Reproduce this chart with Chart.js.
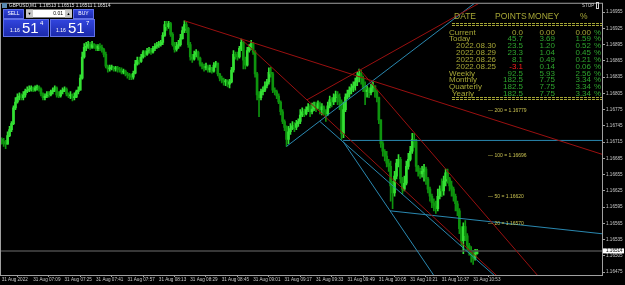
<!DOCTYPE html>
<html>
<head>
<meta charset="utf-8">
<script src="https://cdn.jsdelivr.net/npm/chart.js@4.4.0/dist/chart.umd.min.js"></script>
<style>
  html, body { margin: 0; padding: 0; background: #000; }
  #wrap { position: relative; width: 625px; height: 285px; }
</style>
</head>
<body>
<div id="wrap"><canvas id="chart"></canvas></div>
<script>
// GBPUSD M1, 31 Aug 2022, one bar per minute starting 06:53
const firstOpen = 1.16720;
const closes = [
  1.16716,1.16712,1.16711,1.16727,1.16738,1.16749,1.16778,1.16789,1.16798,1.16800,
  1.16797,1.16802,1.16809,1.16811,1.16813,1.16815,1.16811,1.16815,1.16817,1.16813,
  1.16804,1.16797,1.16800,1.16804,1.16802,1.16808,1.16811,1.16815,1.16802,1.16800,
  1.16808,1.16811,1.16813,1.16804,1.16800,1.16802,1.16797,1.16798,1.16808,1.16811,
  1.16833,1.16872,1.16890,1.16892,1.16895,1.16890,1.16895,1.16894,1.16888,1.16892,
  1.16890,1.16886,1.16877,1.16855,1.16850,1.16852,1.16853,1.16850,1.16852,1.16850,
  1.16848,1.16844,1.16846,1.16841,1.16839,1.16837,1.16835,1.16842,1.16859,1.16866,
  1.16864,1.16872,1.16881,1.16877,1.16883,1.16884,1.16881,1.16888,1.16892,1.16894,
  1.16895,1.16899,1.16912,1.16932,1.16928,1.16934,1.16914,1.16895,1.16886,1.16892,
  1.16895,1.16906,1.16921,1.16932,1.16925,1.16895,1.16872,1.16868,1.16877,1.16881,
  1.16870,1.16859,1.16855,1.16852,1.16855,1.16848,1.16852,1.16846,1.16857,1.16861,
  1.16841,1.16833,1.16830,1.16826,1.16828,1.16822,1.16826,1.16848,1.16877,1.16873,
  1.16872,1.16888,1.16899,1.16866,1.16857,1.16884,1.16890,1.16897,1.16881,1.16841,
  1.16802,1.16797,1.16808,1.16811,1.16819,1.16826,1.16844,1.16841,1.16811,1.16808,
  1.16800,1.16789,1.16771,1.16753,1.16742,1.16720,1.16734,1.16740,1.16745,1.16742,
  1.16749,1.16753,1.16765,1.16771,1.16767,1.16775,1.16780,1.16771,1.16776,1.16782,
  1.16778,1.16786,1.16775,1.16780,1.16771,1.16767,1.16782,1.16793,1.16789,1.16797,
  1.16802,1.16798,1.16789,1.16731,1.16775,1.16798,1.16804,1.16811,1.16815,1.16819,
  1.16826,1.16837,1.16841,1.16833,1.16815,1.16808,1.16811,1.16806,1.16815,1.16819,
  1.16808,1.16797,1.16756,1.16712,1.16698,1.16689,1.16676,1.16670,1.16634,1.16621,
  1.16652,1.16676,1.16683,1.16647,1.16628,1.16639,1.16670,1.16683,1.16698,1.16720,
  1.16716,1.16670,1.16661,1.16656,1.16661,1.16665,1.16647,1.16628,1.16615,1.16603,
  1.16597,1.16592,1.16615,1.16628,1.16625,1.16643,1.16658,1.16647,1.16634,1.16628,
  1.16615,1.16601,1.16588,1.16555,1.16533,1.16559,1.16542,1.16524,1.16515,1.16506,
  1.16500,1.16509,1.16514
];
const highs = [
  1.16723,1.16722,1.16718,1.16734,1.16744,1.16753,1.16782,1.16797,1.16804,1.16806,
  1.16804,1.16808,1.16813,1.16817,1.16819,1.16819,1.16817,1.16819,1.16820,1.16819,
  1.16815,1.16806,1.16804,1.16808,1.16808,1.16811,1.16815,1.16819,1.16817,1.16808,
  1.16811,1.16815,1.16817,1.16815,1.16806,1.16808,1.16804,1.16806,1.16811,1.16817,
  1.16839,1.16881,1.16897,1.16899,1.16901,1.16899,1.16901,1.16897,1.16895,1.16895,
  1.16897,1.16894,1.16888,1.16881,1.16857,1.16857,1.16857,1.16855,1.16855,1.16855,
  1.16853,1.16852,1.16850,1.16848,1.16844,1.16842,1.16841,1.16846,1.16866,1.16872,
  1.16872,1.16877,1.16884,1.16884,1.16888,1.16890,1.16888,1.16892,1.16897,1.16899,
  1.16901,1.16903,1.16917,1.16938,1.16938,1.16938,1.16936,1.16917,1.16899,1.16899,
  1.16903,1.16914,1.16928,1.16939,1.16936,1.16927,1.16899,1.16877,1.16883,1.16886,
  1.16883,1.16872,1.16862,1.16859,1.16861,1.16857,1.16857,1.16853,1.16862,1.16864,
  1.16859,1.16842,1.16837,1.16833,1.16831,1.16830,1.16831,1.16853,1.16884,1.16881,
  1.16881,1.16892,1.16905,1.16901,1.16872,1.16890,1.16895,1.16903,1.16899,1.16884,
  1.16844,1.16808,1.16813,1.16817,1.16826,1.16831,1.16852,1.16853,1.16844,1.16815,
  1.16811,1.16804,1.16791,1.16775,1.16756,1.16745,1.16744,1.16749,1.16753,1.16751,
  1.16755,1.16758,1.16775,1.16778,1.16776,1.16780,1.16786,1.16784,1.16787,1.16789,
  1.16789,1.16791,1.16789,1.16786,1.16782,1.16775,1.16789,1.16800,1.16797,1.16804,
  1.16809,1.16808,1.16804,1.16793,1.16789,1.16804,1.16811,1.16817,1.16822,1.16826,
  1.16833,1.16844,1.16850,1.16848,1.16837,1.16826,1.16819,1.16815,1.16822,1.16826,
  1.16817,1.16811,1.16798,1.16756,1.16716,1.16701,1.16698,1.16683,1.16680,1.16643,
  1.16661,1.16683,1.16692,1.16687,1.16650,1.16652,1.16680,1.16694,1.16707,1.16731,
  1.16731,1.16720,1.16672,1.16667,1.16670,1.16674,1.16669,1.16650,1.16632,1.16619,
  1.16610,1.16606,1.16628,1.16634,1.16647,1.16652,1.16665,1.16665,1.16650,1.16643,
  1.16632,1.16619,1.16606,1.16592,1.16559,1.16566,1.16570,1.16546,1.16528,1.16522,
  1.16515,1.16517,1.16517
];
const lows = [
  1.16711,1.16707,1.16703,1.16711,1.16725,1.16734,1.16747,1.16775,1.16787,1.16793,
  1.16793,1.16793,1.16798,1.16806,1.16808,1.16809,1.16808,1.16809,1.16811,1.16809,
  1.16800,1.16793,1.16793,1.16797,1.16798,1.16800,1.16804,1.16808,1.16798,1.16797,
  1.16798,1.16804,1.16808,1.16800,1.16797,1.16795,1.16791,1.16793,1.16797,1.16804,
  1.16811,1.16831,1.16870,1.16884,1.16888,1.16886,1.16888,1.16888,1.16884,1.16884,
  1.16884,1.16881,1.16872,1.16852,1.16844,1.16846,1.16848,1.16846,1.16846,1.16844,
  1.16844,1.16841,1.16841,1.16837,1.16833,1.16830,1.16830,1.16831,1.16841,1.16857,
  1.16859,1.16862,1.16870,1.16872,1.16875,1.16879,1.16877,1.16879,1.16884,1.16888,
  1.16890,1.16892,1.16895,1.16910,1.16921,1.16925,1.16910,1.16892,1.16881,1.16883,
  1.16888,1.16892,1.16905,1.16917,1.16917,1.16890,1.16866,1.16862,1.16866,1.16872,
  1.16866,1.16855,1.16850,1.16846,1.16848,1.16844,1.16844,1.16842,1.16844,1.16853,
  1.16837,1.16828,1.16824,1.16820,1.16819,1.16817,1.16815,1.16824,1.16844,1.16868,
  1.16866,1.16870,1.16884,1.16850,1.16850,1.16855,1.16881,1.16886,1.16877,1.16835,
  1.16793,1.16762,1.16793,1.16802,1.16808,1.16815,1.16822,1.16835,1.16806,1.16802,
  1.16795,1.16786,1.16765,1.16749,1.16736,1.16707,1.16712,1.16729,1.16738,1.16734,
  1.16738,1.16744,1.16749,1.16762,1.16762,1.16765,1.16771,1.16762,1.16767,1.16773,
  1.16771,1.16776,1.16767,1.16765,1.16765,1.16753,1.16764,1.16778,1.16780,1.16784,
  1.16789,1.16784,1.16775,1.16720,1.16723,1.16771,1.16795,1.16798,1.16804,1.16808,
  1.16811,1.16819,1.16826,1.16822,1.16808,1.16784,1.16798,1.16797,1.16802,1.16808,
  1.16798,1.16789,1.16749,1.16705,1.16689,1.16680,1.16669,1.16661,1.16606,1.16592,
  1.16615,1.16647,1.16669,1.16639,1.16619,1.16625,1.16636,1.16665,1.16680,1.16694,
  1.16705,1.16661,1.16652,1.16648,1.16650,1.16643,1.16637,1.16621,1.16606,1.16594,
  1.16588,1.16583,1.16588,1.16610,1.16614,1.16617,1.16634,1.16639,1.16625,1.16615,
  1.16606,1.16588,1.16579,1.16546,1.16524,1.16509,1.16533,1.16515,1.16506,1.16493,
  1.16489,1.16497,1.16508
];

// axes
const xMin = -0.36, xMax = 305.6;
const yMin = 1.164695, yMax = 1.169704;
const xTickIdx = [0, 16, 32, 48, 64, 80, 96, 112, 128, 144, 160, 176, 192, 208, 224, 240];
const xTickLabels = ['31 Aug 2022', '31 Aug 07:09', '31 Aug 07:25', '31 Aug 07:41', '31 Aug 07:57',
  '31 Aug 08:13', '31 Aug 08:29', '31 Aug 08:45', '31 Aug 09:01', '31 Aug 09:17', '31 Aug 09:33',
  '31 Aug 09:49', '31 Aug 10:05', '31 Aug 10:21', '31 Aug 10:37', '31 Aug 10:53'];
const yTicks = [1.16475, 1.16505, 1.16535, 1.16565, 1.16595, 1.16625, 1.16655, 1.16685, 1.16715,
  1.16745, 1.16775, 1.16805, 1.16835, 1.16865, 1.16895, 1.16925, 1.16955];
const lastPrice = 1.16514;

// drawn objects: [bar index, price] pairs, rays from first point through second
const redLines = [
  [[93, 1.16939], [223.2, 1.16788]],
  [[182, 1.16850], [223.2, 1.16677]],
  [[122, 1.16905], [243.5, 1.16497]],
  [[155.4, 1.16793], [223.2, 1.16931]]
];
const tealLines = [
  [[145, 1.16707], [223.2, 1.16923]],
  [[162, 1.16753], [223.2, 1.16557]],
  [[173.8, 1.16716], [197.7, 1.16588]],
  [[197.7, 1.16588], [223.2, 1.16578]],
  [[173.8, 1.16718], [223.2, 1.16718]]
];
const levelNames = [200, 100, 50, 20];
const levelPrices = [1.16779, 1.16696, 1.16620, 1.16570];
const levelLabelIdx = 247.6;

// stats panel
const rowNames = ['Current', 'Today', '2022.08.30', '2022.08.29', '2022.08.26', '2022.08.25',
  'Weekly', 'Monthly', 'Quarterly', 'Yearly'];
const rowPoints = ['0.0', '45.7', '23.5', '23.3', '8.1', '-3.1', '92.5', '182.5', '182.5', '182.5'];
const rowMoney = ['0.00', '3.69', '1.20', '1.04', '0.49', '0.14', '5.93', '7.75', '7.75', '7.75'];
const rowPct = ['0.00', '1.59', '0.52', '0.45', '0.21', '0.06', '2.56', '3.34', '3.34', '3.34'];

const UP = '#34e034', DOWN = '#0e940e';
const opens = closes.map((c, i) => i === 0 ? firstOpen : closes[i - 1]);
const wickData = closes.map((c, i) => ({ x: i, y: [Math.min(lows[i], opens[i], c), Math.max(highs[i], opens[i], c)] }));
const bodyData = closes.map((c, i) => ({ x: i, y: [opens[i], c] }));
const colors = closes.map((c, i) => c >= opens[i] ? UP : DOWN);

const FONT = '"Liberation Sans", Arial, sans-serif';

const overlay = {
  id: 'overlay',
  afterDatasetsDraw(chart) {
    const { ctx, chartArea: a, scales: { x, y } } = chart;
    ctx.save();
    ctx.beginPath();
    ctx.rect(a.left, a.top, a.right - a.left, a.bottom - a.top);
    ctx.clip();
    ctx.lineWidth = 1;

    // last price line
    ctx.strokeStyle = '#4a4a4a';
    ctx.lineWidth = 1.5;
    ctx.beginPath();
    ctx.moveTo(a.left, y.getPixelForValue(lastPrice));
    ctx.lineTo(a.right, y.getPixelForValue(lastPrice));
    ctx.stroke();
    ctx.lineWidth = 1;

    const ray = (l, color) => {
      const x1 = x.getPixelForValue(l[0][0]), y1 = y.getPixelForValue(l[0][1]);
      const x2 = x.getPixelForValue(l[1][0]), y2 = y.getPixelForValue(l[1][1]);
      const k = 2000 / Math.hypot(x2 - x1, y2 - y1);
      ctx.strokeStyle = color;
      ctx.beginPath();
      ctx.moveTo(x1, y1);
      ctx.lineTo(x1 + (x2 - x1) * k, y1 + (y2 - y1) * k);
      ctx.stroke();
    };
    tealLines.forEach(l => ray(l, '#2a88b0'));
    redLines.forEach(l => ray(l, '#9a1010'));

    // level labels
    ctx.fillStyle = '#c8c050';
    ctx.font = '5px ' + FONT;
    ctx.textBaseline = 'top';
    ctx.textAlign = 'left';
    levelNames.forEach((n, i) => {
      ctx.fillText('\u2014 ' + n + ' = ' + levelPrices[i].toFixed(5),
        x.getPixelForValue(levelLabelIdx), y.getPixelForValue(levelPrices[i]) + 0.5);
    });
    ctx.restore();
  },
  afterDraw(chart) {
    const { ctx, chartArea: a, scales: { y } } = chart;
    ctx.save();
    // frame
    ctx.strokeStyle = '#a0a0a0';
    ctx.lineWidth = 1;
    ctx.strokeRect(a.left - 0.5, a.top - 0.5, a.right - a.left + 1, a.bottom - a.top + 1);

    // last price box on the axis
    const py = y.getPixelForValue(lastPrice);
    ctx.fillStyle = '#ffffff';
    ctx.fillRect(a.right + 1, py - 2.5, 21, 5);
    ctx.fillStyle = '#000';
    ctx.font = '4.6px ' + FONT;
    ctx.textBaseline = 'middle';
    ctx.fillText(lastPrice.toFixed(5), a.right + 4, py);

    // stats table
    const olive = '#a6a636', green = '#2ea42e';
    ctx.textBaseline = 'middle';
    ctx.font = '8.5px ' + FONT;
    ctx.fillStyle = olive;
    ctx.textAlign = 'left';
    ctx.fillText('DATE', 454, 17);
    ctx.fillText('POINTS', 495, 17);
    ctx.fillText('MONEY', 528, 17);
    ctx.fillText('%', 580, 17);
    ctx.strokeStyle = olive;
    ctx.setLineDash([3, 1]);
    [23.5, 25.5, 97.5, 99.5].forEach(ly => {
      ctx.beginPath(); ctx.moveTo(452, ly); ctx.lineTo(602, ly); ctx.stroke();
    });
    ctx.setLineDash([]);
    ctx.font = '8px ' + FONT;
    rowNames.forEach((n, i) => {
      const ry = 32.3 + i * 6.85;
      const lx = n.startsWith('2022') ? 456 : (n === 'Yearly' ? 452 : 449);
      ctx.textAlign = 'left';
      ctx.fillStyle = olive;
      ctx.fillText(n, lx, ry);
      ctx.textAlign = 'right';
      ctx.fillStyle = i === 0 ? olive : (rowPoints[i].startsWith('-') ? '#ff1e1e' : green);
      ctx.fillText(rowPoints[i], 523, ry);
      ctx.fillStyle = i === 0 ? olive : green;
      ctx.fillText(rowMoney[i], 555, ry);
      ctx.fillText(rowPct[i], 591, ry);
      ctx.textAlign = 'left';
      ctx.fillStyle = green;
      ctx.fillText('%', 594, ry);
    });

    // STOP
    ctx.font = '4.5px ' + FONT;
    ctx.fillStyle = '#d0d0d0';
    ctx.textAlign = 'left';
    ctx.fillText('STOP', 582, 5.5);
    ctx.strokeStyle = '#d0d0d0';
    ctx.strokeRect(596.5, 2.5, 2, 6);

    // symbol header
    ctx.fillStyle = '#5a8ab0';
    ctx.fillRect(2, 3, 5, 5);
    ctx.fillStyle = '#e8e8e8';
    ctx.font = '4.7px ' + FONT;
    ctx.fillText('GBPUSD,M1  1.16513 1.16515 1.16511 1.16514', 9, 5.5);

    // one-click trading panel
    const blue = (bx, by, bw, bh) => {
      const g = ctx.createLinearGradient(0, by, 0, by + bh);
      g.addColorStop(0, '#3246e0');
      g.addColorStop(1, '#1a28a8');
      ctx.fillStyle = g;
      ctx.fillRect(bx, by, bw, bh);
      ctx.strokeStyle = '#6070e8';
      ctx.strokeRect(bx + 0.5, by + 0.5, bw - 1, bh - 1);
    };
    blue(3, 9, 21, 10);
    blue(73, 9, 21, 10);
    blue(3, 19, 46, 18);
    blue(50, 19, 45, 18);
    ctx.fillStyle = '#ffffff';
    ctx.fillRect(26, 9.5, 46, 8);
    ctx.fillStyle = '#c8c8c8';
    ctx.fillRect(26, 9.5, 7, 8);
    ctx.fillRect(65, 9.5, 7, 8);
    ctx.fillStyle = '#000';
    ctx.font = '4px ' + FONT;
    ctx.textAlign = 'center';
    ctx.fillText('\u25BC', 29.5, 13.5);
    ctx.fillText('\u25B2', 68.5, 13.5);
    ctx.font = '5px ' + FONT;
    ctx.textAlign = 'right';
    ctx.fillText('0.01', 63, 13.5);
    ctx.fillStyle = '#ffffff';
    ctx.textAlign = 'center';
    ctx.fillText('SELL', 13.5, 14);
    ctx.fillText('BUY', 83.5, 14);
    ctx.textAlign = 'left';
    ctx.font = '5px ' + FONT;
    ctx.fillText('1.16', 10, 31);
    ctx.fillText('1.16', 56, 31);
    ctx.font = '15px ' + FONT;
    ctx.fillText('51', 22, 28.5);
    ctx.fillText('51', 68, 28.5);
    ctx.font = '6px ' + FONT;
    ctx.fillText('4', 40, 23.5);
    ctx.fillText('7', 86, 23.5);
    ctx.restore();
  }
};

new Chart(document.getElementById('chart'), {
  type: 'bar',
  data: {
    datasets: [
      { data: wickData, backgroundColor: colors, barThickness: 1, grouped: false, order: 2 },
      { data: bodyData, backgroundColor: colors, barThickness: 2, minBarLength: 1, grouped: false, order: 1 }
    ]
  },
  options: {
    responsive: true,
    maintainAspectRatio: false,
    animation: false,
    devicePixelRatio: 1,
    layout: { padding: { left: 1, top: 1, right: 0, bottom: 0 } },
    plugins: { legend: { display: false }, tooltip: { enabled: false } },
    scales: {
      x: {
        type: 'linear', min: xMin, max: xMax, offset: false,
        grid: { drawOnChartArea: false, drawTicks: true, tickLength: 2, color: '#a0a0a0' },
        border: { display: true, color: '#a0a0a0' },
        ticks: {
          autoSkip: false, maxRotation: 0, align: 'start', padding: 0,
          color: '#c8c8c8', font: { size: 4.6, family: FONT },
          callback: (v) => xTickLabels[xTickIdx.indexOf(v)]
        },
        afterBuildTicks: (s) => { s.ticks = xTickIdx.map(v => ({ value: v })); },
        afterFit: (s) => { s.height = 10; }
      },
      y: {
        position: 'right', min: yMin, max: yMax,
        grid: { drawOnChartArea: false, drawTicks: true, tickLength: 3, color: '#a0a0a0' },
        border: { display: true, color: '#a0a0a0' },
        ticks: {
          padding: 1, color: '#c8c8c8', font: { size: 4.6, family: FONT },
          callback: (v) => v.toFixed(5)
        },
        afterBuildTicks: (s) => { s.ticks = yTicks.map(v => ({ value: v })); },
        afterFit: (s) => { s.height; s.width = 23; }
      }
    }
  },
  plugins: [overlay]
});
</script>
</body>
</html>
